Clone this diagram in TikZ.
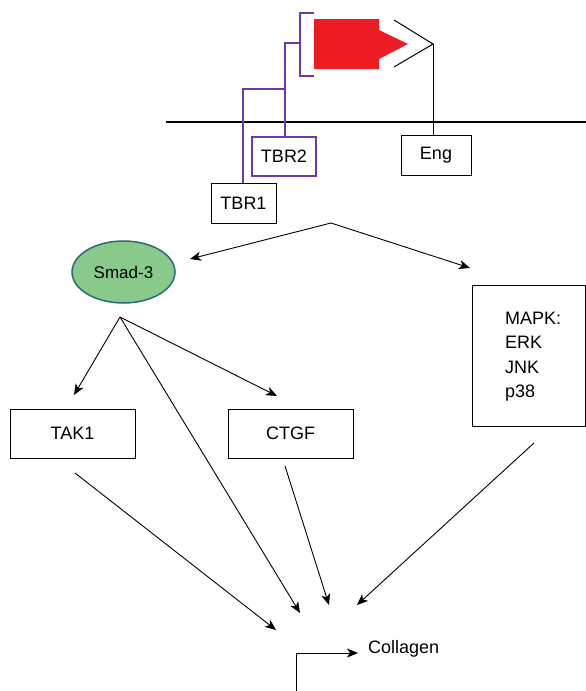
\documentclass[tikz,border=0pt]{standalone}
\usepackage{fontspec}
\setmainfont{Liberation Sans}
\usetikzlibrary{arrows.meta,shapes.geometric}
\definecolor{ligand}{RGB}{237,28,36}
\definecolor{receptor}{RGB}{108,58,178}
\definecolor{smadfill}{RGB}{137,202,139}
\definecolor{smadline}{RGB}{44,108,112}

\begin{document}
\begin{tikzpicture}[x=1pt, y=-1pt,
    box/.style={draw, line width=0.9pt, inner sep=0pt, font=\fontsize{18}{24.4}\selectfont},
    arr/.style={-{Stealth[length=11pt, width=9pt, inset=3pt]}, line width=0.9pt}]
    \useasboundingbox (0,0) rectangle (586,691);

    %% Membrane and receptors
    % Membrane
    \draw [line width=1.2pt] (166,122) -- (586,122);
    % Ligand
    \fill [ligand] (314,19) -- (379,19) -- (379,30) -- (408,44) -- (379,59) -- (379,69) -- (314,69) -- cycle;
    % Endoglin
    \coordinate (engtip) at (433,44);
    \draw [line width=1pt] (394,20) -- (engtip) -- (394,67);
    \node [box, minimum width=70pt, minimum height=40pt] (eng) at (436,155.5) {Eng};
    \draw [line width=1pt] (engtip) -- (engtip |- eng.north);
    % TGF-beta receptors
    \node [box, draw=receptor, line width=1.1pt, minimum width=64pt, minimum height=39pt] (tbr2) at (284,156.5) {TBR2};
    \node [box, minimum width=65pt, minimum height=40pt] (tbr1) at (243.5,203) {TBR1};
    \draw [receptor, line width=1.3pt] (314,13) -- (300,13) -- (300,76) -- (314,76);
    \draw [receptor, line width=1.3pt] (300,43) -- (285,43) -- (285,137);
    \draw [receptor, line width=1.3pt] (285,89) -- (243,89) -- (243,183);

    %% Signalling
    \coordinate (fork) at (331,223);
    \node [ellipse, draw=smadline, fill=smadfill, line width=1.5pt, minimum width=103pt, minimum height=62pt,
           font=\fontsize{17}{20}\selectfont] (smad) at (123.5,272) {Smad-3};
    \node [box, minimum width=113pt, minimum height=141pt] (mapk) at (528.5,355.5) {};
    \node [font=\fontsize{18}{24.4}\selectfont, align=left, anchor=west, inner sep=0pt] (mapklist) at (505,356.5) {MAPK:\\ERK\\JNK\\p38};
    \coordinate (smadin) at (190,259);
    \coordinate (mapkin) at (470,268);
    \draw [arr] (fork) -- (smadin);
    \draw [arr] (fork) -- (mapkin);

    \node [box, minimum width=125pt, minimum height=49pt] (tak) at (72.5,433.5) {TAK1};
    \node [box, minimum width=125pt, minimum height=49pt] (ctgf) at (290.5,433.5) {CTGF};
    \coordinate (smadout) at (120,317);
    \coordinate (takin) at (74,395);
    \coordinate (ctgfin) at (277,396);
    \draw [arr] (smadout) -- (takin);
    \draw [arr] (smadout) -- (ctgfin);

    %% Collagen
    \coordinate (colsmad) at (300,613);
    \coordinate (coltak) at (276,630);
    \coordinate (colctgf) at (329,605);
    \coordinate (colmapk) at (357,605);
    \coordinate (takout) at (75,473);
    \coordinate (ctgfout) at (285,466);
    \coordinate (mapkout) at (534,443);
    \draw [arr] (smadout) -- (colsmad);
    \draw [arr] (takout) -- (coltak);
    \draw [arr] (ctgfout) -- (colctgf);
    \draw [arr] (mapkout) -- (colmapk);
    % Promoter
    \node [font=\fontsize{18}{20}\selectfont, anchor=west, inner sep=0pt] (col) at (368,649) {Collagen};
    \coordinate (tss) at (296,691);
    \draw [arr] (tss) -- (296,653) -- ([xshift=-10pt]col.west |- 0,653);

\end{tikzpicture}
\end{document}
